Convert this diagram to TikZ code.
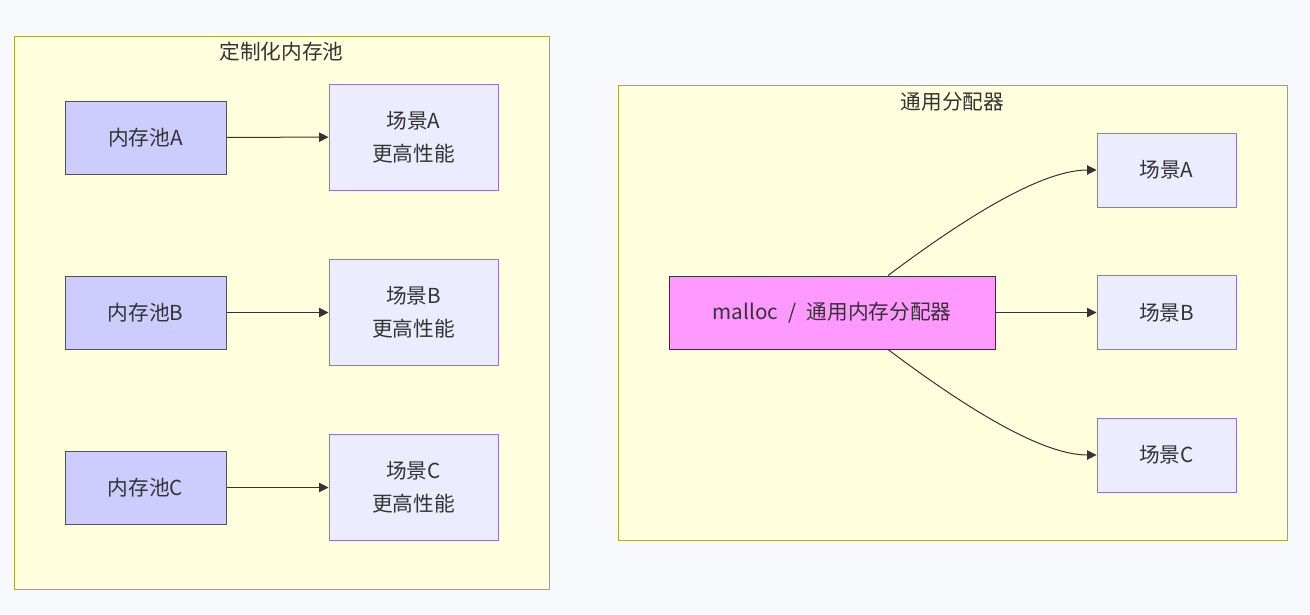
\documentclass[tikz,border=0pt]{standalone}
\usepackage{fontspec}
\setmainfont{Noto Sans CJK SC}
\usetikzlibrary{arrows.meta,calc}
\definecolor{bgc}{HTML}{F8F9FC}
\definecolor{clfill}{HTML}{FFFFDE}
\definecolor{clline}{HTML}{AAAA33}
\definecolor{poolfill}{HTML}{CCCCFF}
\definecolor{scfill}{HTML}{ECECFF}
\definecolor{scline}{HTML}{9370DB}
\definecolor{mfill}{HTML}{FF99FF}
\definecolor{txt}{HTML}{333333}
\tikzset{
  cluster/.style={draw=clline, fill=clfill, line width=0.75pt},
  pool/.style={draw=txt!85, fill=poolfill, line width=0.75pt, minimum width=120.75pt, minimum height=54.75pt, inner sep=0pt, text=txt, font=\fontsize{15.5}{20}\selectfont},
  scene/.style={draw=scline, fill=scfill, line width=0.75pt, minimum width=126.75pt, minimum height=79.5pt, inner sep=0pt, align=center, text=txt, font=\fontsize{15.5}{25}\selectfont},
  rscene/.style={draw=scline, fill=scfill, line width=0.75pt, minimum width=104.25pt, minimum height=55.5pt, inner sep=0pt, text=txt, font=\fontsize{15.5}{20}\selectfont},
  mbox/.style={draw=txt, fill=mfill, line width=0.75pt, minimum width=244.5pt, minimum height=54.75pt, inner sep=0pt, text=txt, font=\fontsize{15.5}{20}\selectfont},
  ctitle/.style={text=txt, font=\fontsize{15.5}{20}\selectfont},
  arr/.style={draw=txt, line width=0.75pt, -{Triangle[length=7pt,width=7pt]}}
}
\begin{document}
\begin{tikzpicture}[x=0.75pt,y=-0.75pt]
\fill[bgc] (0,0) rectangle (1310,614);
\useasboundingbox (0,0) rectangle (1310,614);
% left cluster
\draw[cluster] (14,36) rectangle (549,589);
\node[ctitle] (t1) at (281.5,52) {定制化内存池};
\node[pool] (pA) at (145.5,137.5) {内存池A};
\node[pool] (pB) at (145.5,312.5) {内存池B};
\node[pool] (pC) at (145.5,487.5) {内存池C};
\node[scene] (sA) at (413.5,137) {场景A\\更高性能};
\node[scene] (sB) at (413.5,312.5) {场景B\\更高性能};
\node[scene] (sC) at (413.5,487.5) {场景C\\更高性能};
\draw[arr] (pA) -- (sA);
\draw[arr] (pB) -- (sB);
\draw[arr] (pC) -- (sC);
% right cluster
\draw[cluster] (618,85) rectangle (1287,540);
\node[ctitle] (t2) at (952.5,102) {通用分配器};
\node[mbox] (m) at (832,312.5) {malloc\hspace{0.5em}/\hspace{0.5em}通用内存分配器};
\node[rscene] (rA) at (1166.5,170) {场景A};
\node[rscene] (rB) at (1166.5,312.5) {场景B};
\node[rscene] (rC) at (1166.5,455) {场景C};
\draw[arr] ([xshift=42pt]m.north) .. controls +(72,-54) and +(-57,0) .. (rA.west);
\draw[arr] (m) -- (rB);
\draw[arr] ([xshift=42pt]m.south) .. controls +(72,54) and +(-57,0) .. (rC.west);
\end{tikzpicture}
\end{document}
